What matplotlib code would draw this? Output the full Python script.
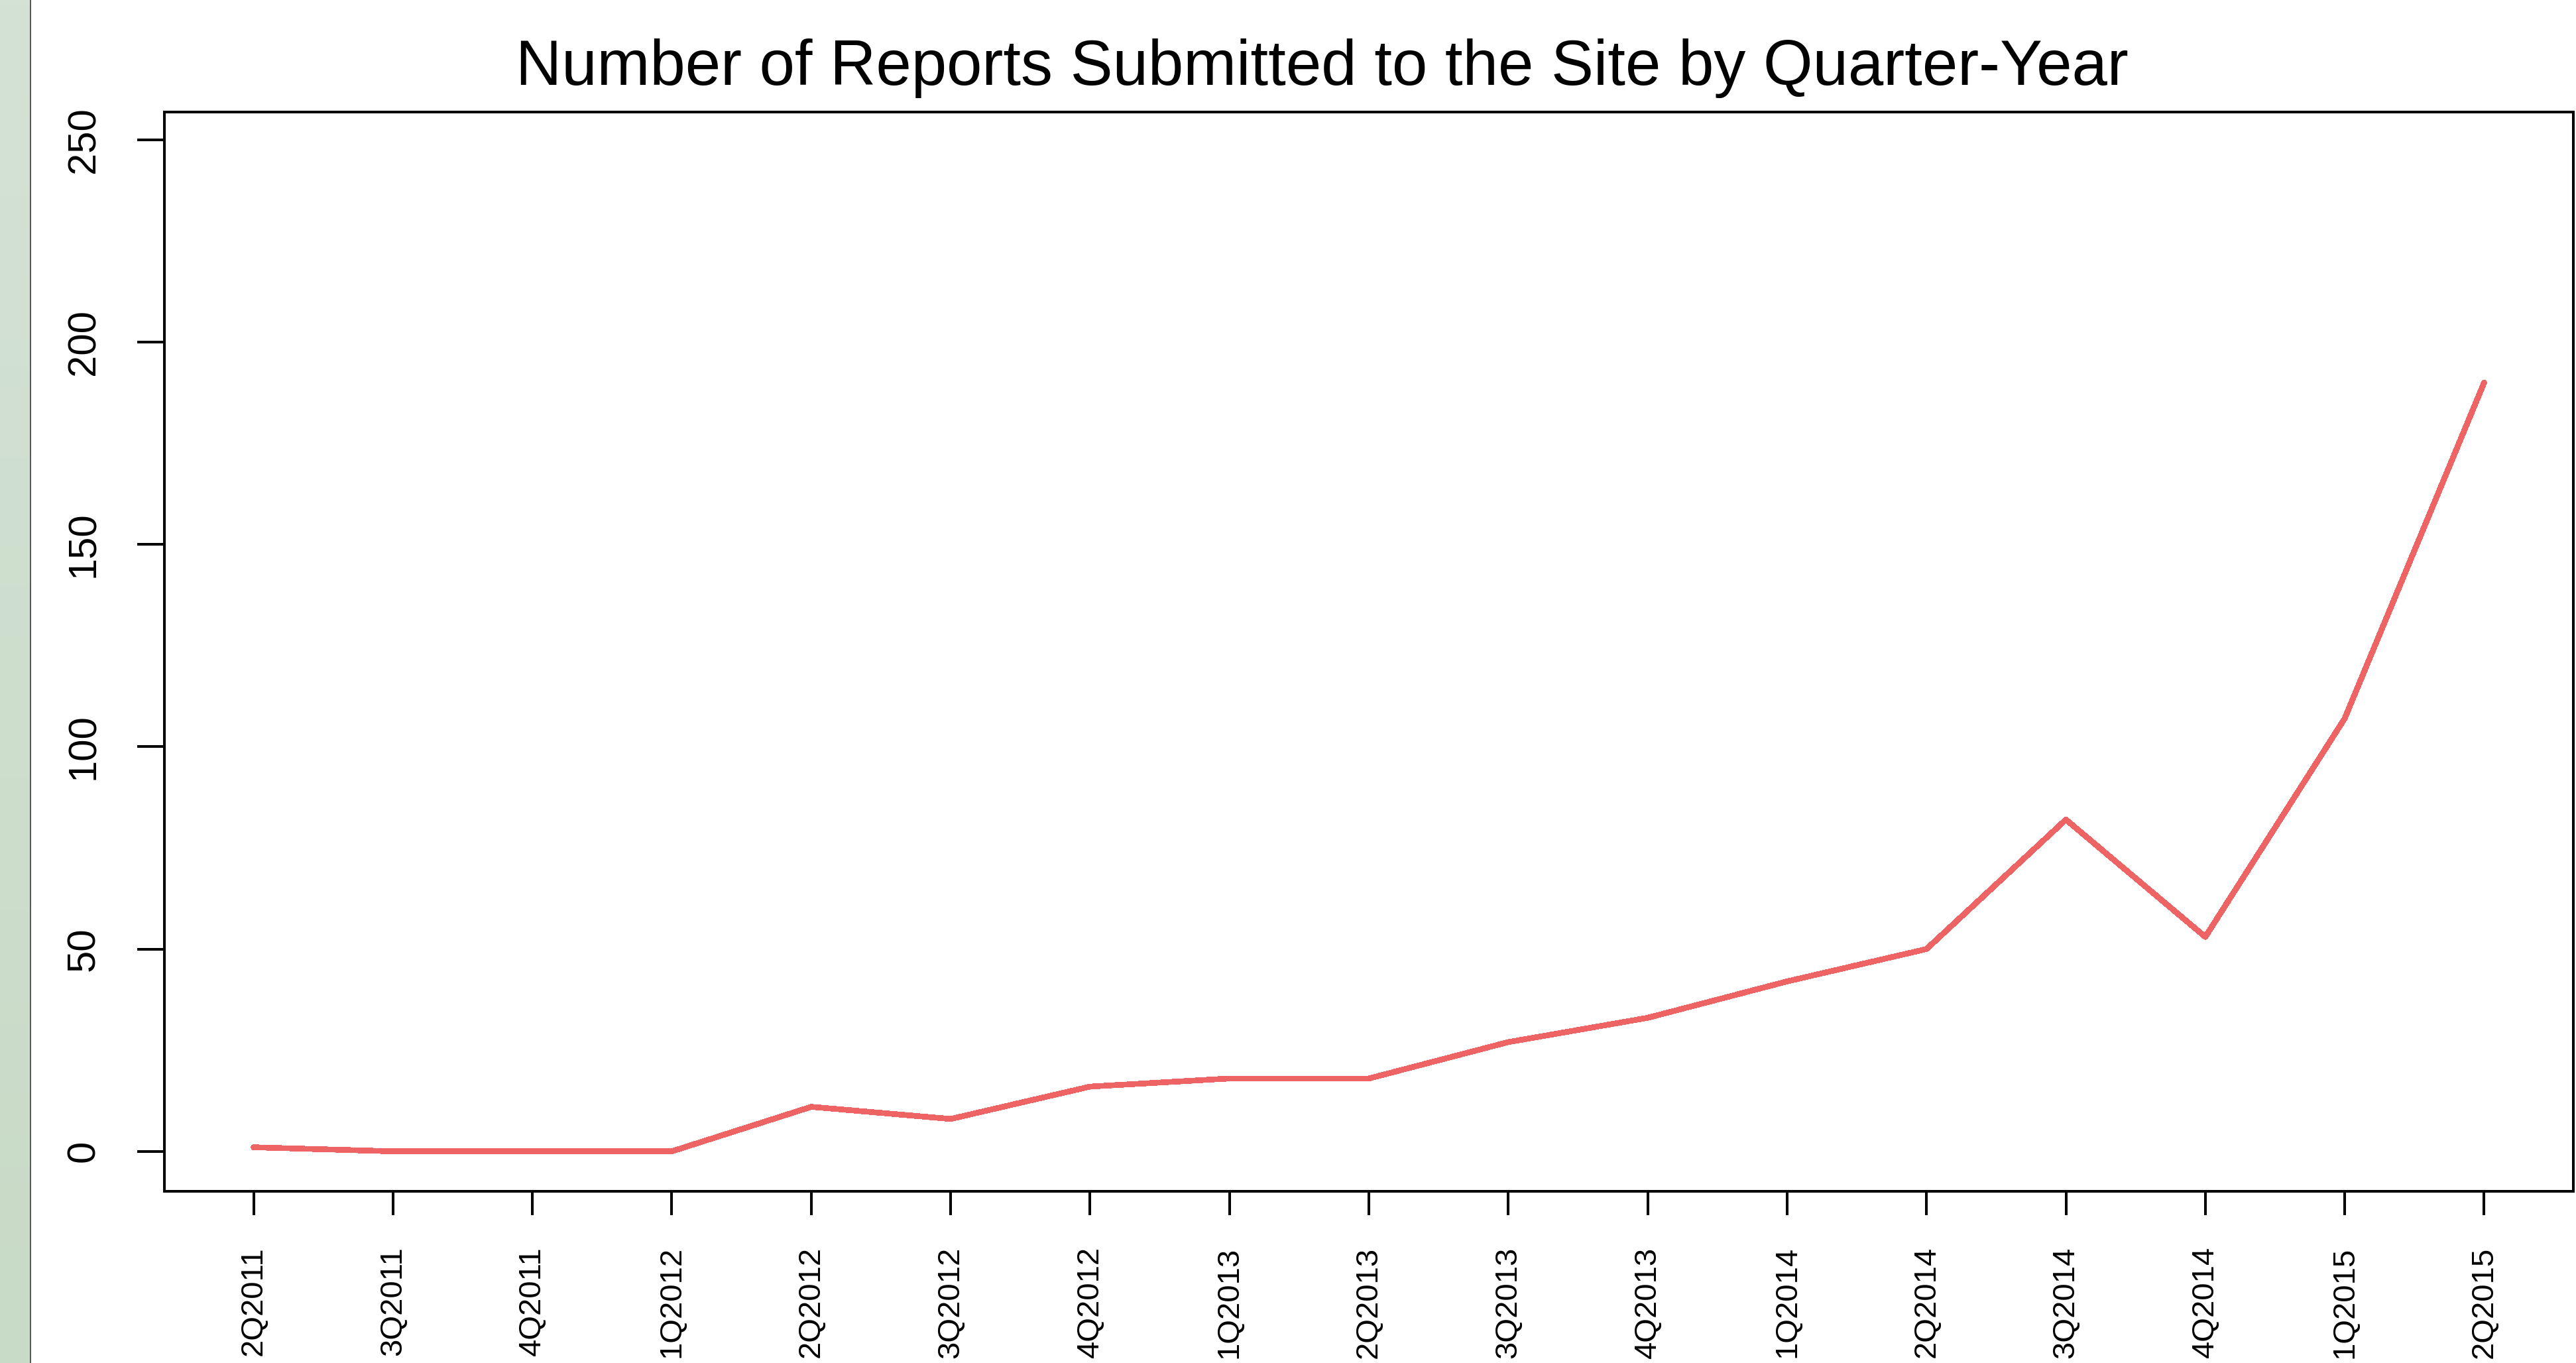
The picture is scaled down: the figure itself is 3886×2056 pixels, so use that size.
"""
Reports submitted per quarter-year
==================================
Recreates the R base-graphics line chart of the number of reports
submitted to the site, one point per quarter from 2Q2011 to 2Q2015.
"""

import numpy as np
import matplotlib
matplotlib.use("Agg")
import matplotlib.pyplot as plt

# ---------------------------------------------------------------------------
# Data
# ---------------------------------------------------------------------------
QUARTERS = [
    "2Q2011", "3Q2011", "4Q2011", "1Q2012", "2Q2012", "3Q2012",
    "4Q2012", "1Q2013", "2Q2013", "3Q2013", "4Q2013", "1Q2014",
    "2Q2014", "3Q2014", "4Q2014", "1Q2015", "2Q2015",
]
REPORTS = [1, 0, 0, 0, 11, 8, 16, 18, 18, 27, 33, 42, 50, 82, 53, 107, 190]
Y_TICKS = [0, 50, 100, 150, 200, 250]

TITLE = "Number of Reports Submitted to the Site by Quarter-Year"

# ---------------------------------------------------------------------------
# Styling
# ---------------------------------------------------------------------------
W, H, DPI = 3887, 2056, 100
LINE_COLOR = "#EE6363"
FONT = ["Liberation Sans", "DejaVu Sans"]

fig = plt.figure(figsize=(W / DPI, H / DPI), dpi=DPI, facecolor="white")

# green window strip on the left edge (the reference is a screenshot crop)
strip = fig.add_axes([0, 0, 46 / W, 1])
grad = np.linspace(0, 1, 256).reshape(-1, 1)
top_rgb = np.array([212, 226, 213]) / 255
bot_rgb = np.array([200, 219, 198]) / 255
strip.imshow(top_rgb + grad[..., None] * (bot_rgb - top_rgb),
             aspect="auto", extent=[0, 1, 0, 1])
strip.set_axis_off()
fig.add_artist(plt.Line2D([46.5 / W, 46.5 / W], [0, 1], color="#555555",
                          lw=1.4, transform=fig.transFigure))

# plot region, in pixels measured on the reference
left, right, top, bottom = 248, 3882, 169, 1797
ax = fig.add_axes([left / W, (H - bottom) / H,
                   (right - left) / W, (bottom - top) / H])

x = np.arange(len(QUARTERS))
ax.plot(x, REPORTS, color=LINE_COLOR, lw=5.5, solid_capstyle="round",
        solid_joinstyle="round", antialiased=False)

# R pads the data range by 4% on each side
ax.set_xlim(-0.04 * 16, 16 + 0.04 * 16)
ax.set_ylim(-0.04 * 247, 247 + 0.04 * 247)

ax.set_xticks(x)
ax.set_xticklabels(QUARTERS, rotation=90, family=FONT, fontsize=34)
ax.set_yticks(Y_TICKS)
ax.set_yticklabels([str(v) for v in Y_TICKS], rotation=90, va="center",
                   family=FONT, fontsize=43)

ax.tick_params(axis="x", length=26, width=2.9, pad=34, direction="out")
ax.tick_params(axis="y", length=29.5, width=2.9, pad=38, direction="out")
for s in ax.spines.values():
    s.set_linewidth(2.9)

fig.text(1994 / W, (H - 128) / H, TITLE, ha="center", va="baseline",
         family=FONT, fontsize=69)

fig.savefig("out.png", dpi=DPI, facecolor="white")
